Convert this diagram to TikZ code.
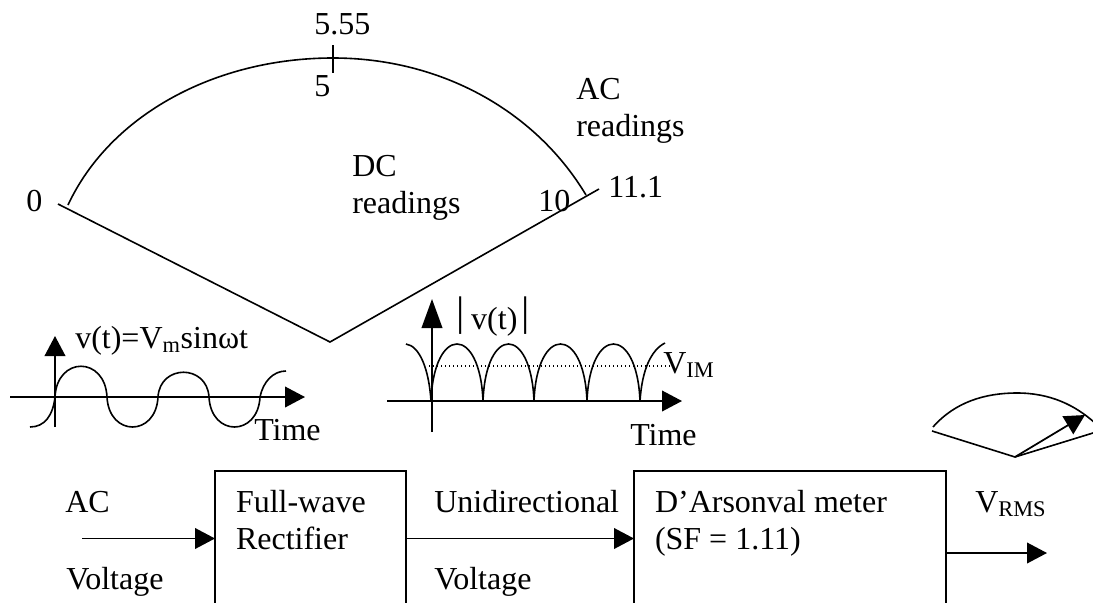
\documentclass[tikz,border=0pt]{standalone}
\usepackage{fontspec}
\setmainfont{Liberation Serif}
\usetikzlibrary{arrows.meta}
\tikzset{
  lbl/.style={anchor=base west, inner sep=0pt},
  blockbox/.style={draw, line width=1.3pt, anchor=north west, align=flush left, outer sep=0pt, inner xsep=15.75pt, inner ysep=14.4pt},
  wire/.style={line width=1.2pt},
  sigarrow/.style={line width=1.3pt, -{Triangle[length=15pt, width=15.5pt]}},
  tallarrow/.style={line width=1.3pt, -{Triangle[length=21.75pt, width=15.5pt]}}
}
\newcommand{\tallbar}{\raisebox{3pt}{\fontsize{31}{31}\selectfont|}}
\begin{document}
\begin{tikzpicture}[x=0.75pt, y=-0.75pt, font=\fontsize{24}{27.6}\selectfont]
      \useasboundingbox (0,0) rectangle (1093,603);

      \coordinate (scaleleft) at (58,204); \coordinate (pivot) at (330,342);
      \coordinate (scaleright) at (599,189); \coordinate (ticktop) at (333,45);
      \coordinate (tickbot) at (333,73);
      \draw[wire] (scaleleft) -- (pivot) -- (scaleright);
      \draw[wire] (ticktop) -- (tickbot);
      \draw[wire] (68,205) .. controls (110,115) and (215,58) .. (333,58) .. controls (440,58) and (535,110) .. (586,195);
      \node[lbl] (midac) at (314,34) {5.55}; \node[lbl] (middc) at (314,96) {5};
      \node[lbl] (zero) at (26,211) {0}; \node[lbl] (ten) at (538,211) {10};
      \node[lbl] (fullac) at (608,197) {11.1};
      \node[lbl, align=left] (dclabel) at (352,213) {DC\\readings};
      \node[lbl, align=left] (aclabel) at (576,136) {AC\\readings};

      \coordinate (inleft) at (10,397); \coordinate (inright) at (305,397);
      \coordinate (inbot) at (55,427); \coordinate (intop) at (55,336);
      \draw[sigarrow] (inleft) -- (inright); \draw[sigarrow] (inbot) -- (intop);
      \draw[wire] (30,427) .. controls (45,427) and (53,415) .. (55,397);
      \foreach \a/\b/\c in {55/107/356, 107/158/437, 158/209/364, 209/260/437}
        \draw[wire] (\a,397) .. controls ({\a+2},\c) and ({\b-2},\c) .. (\b,397);
      \draw[wire] (260,397) .. controls (263,382) and (273,371) .. (286,371);
      \node[lbl] (inlabel) at (75,348) {v(t)=V\textsubscript{m}sinωt};
      \node[lbl] (intime) at (254,440) {Time};

      \coordinate (outleft) at (387,401); \coordinate (outright) at (682,401);
      \coordinate (outbot) at (432,432); \coordinate (outtop) at (432,299);
      \coordinate (avgleft) at (429,366); \coordinate (avgright) at (672,366);
      \draw[sigarrow] (outleft) -- (outright); \draw[tallarrow] (outbot) -- (outtop);
      \draw[line width=1pt, dotted] (avgleft) -- (avgright);
      \draw[wire] (406,344) .. controls (420,346) and (429,370) .. (431,401);
      \foreach \a/\b in {431/483, 483/534, 534/587, 587/640}
        \draw[wire] (\a,401) .. controls ({\a+3},325) and ({\b-3},325) .. (\b,401);
      \draw[wire] (640,401) .. controls (642,370) and (651,350) .. (665,343);
      \node[lbl] (outlabel) at (456,329) {\tallbar\hspace{5pt}v(t)\hspace{3pt}\tallbar};
      \node[lbl] (outtime) at (630,445) {Time};
      \node[lbl] (vimlabel) at (663,373) {V\textsubscript{IM}};

      \coordinate (minileft) at (932,431); \coordinate (minipivot) at (1015,457);
      \coordinate (miniright) at (1093,433); \coordinate (minitip) at (1085,415);
      \draw[wire] (minileft) -- (minipivot) -- (miniright);
      \draw[wire] (933,427) .. controls (955,402) and (985,393) .. (1017,393) .. controls (1050,393) and (1075,405) .. (1095,423);
      \draw[sigarrow] (minipivot) -- (minitip);

      \node[blockbox, text width=111.75pt] (rectifier) at (215,471) {Full-wave\\Rectifier\\[70pt]\mbox{}};
      \node[blockbox, text width=202.5pt] (meter) at (634,471) {D’Arsonval meter\\(SF = 1.11)\\[70pt]\mbox{}};
      \coordinate (acin) at (82,538.5); \coordinate (rmsout) at (1047,553);
      \draw[sigarrow] (acin) -- (acin -| rectifier.west);
      \draw[sigarrow] (acin -| rectifier.east) -- (acin -| meter.west);
      \draw[sigarrow] (rmsout -| meter.east) -- (rmsout);
      \node[lbl] (acword) at (65,512) {AC}; \node[lbl] (acvolt) at (66,589) {Voltage};
      \node[lbl] (uniword) at (434,512) {Unidirectional}; \node[lbl] (univolt) at (434,589) {Voltage};
      \node[lbl] (rmslabel) at (975,512) {V\textsubscript{RMS}};
    \end{tikzpicture}
\end{document}
